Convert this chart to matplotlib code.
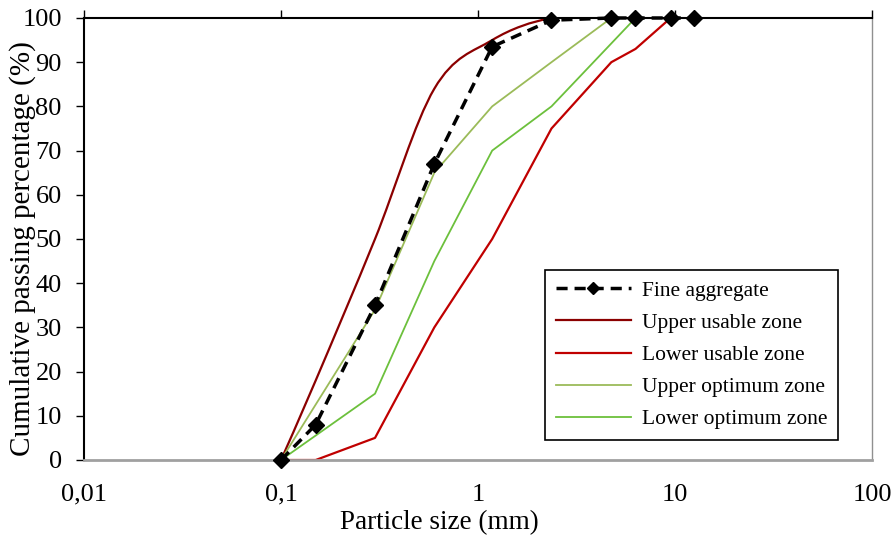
import numpy as np
import matplotlib
matplotlib.use("Agg")
import matplotlib.pyplot as plt
from matplotlib.path import Path
from matplotlib.patches import PathPatch
from matplotlib.lines import Line2D

plt.rcParams['font.family'] = ['Liberation Serif', 'DejaVu Serif']

# sieve size (mm) vs cumulative passing (%)
fine_size = [0.1, 0.15, 0.3, 0.6, 1.18, 2.36, 4.75, 6.3, 9.5, 12.5]
fine_pass = [0, 8, 35, 67, 93.5, 99.5, 100, 100, 100, 100]

upper_usable_size = [0.1, 0.15, 0.3, 0.6, 1.18, 2.36, 4.75]
upper_usable_pass = [0, 18, 50, 84, 95, 100, 100]

lower_usable_size = [0.1, 0.15, 0.3, 0.6, 1.18, 2.36, 4.75, 6.3, 9.5]
lower_usable_pass = [0, 0, 5, 30, 50, 75, 90, 93, 100]

upper_opt_size = [0.1, 0.3, 0.6, 1.18, 2.36, 4.75]
upper_opt_pass = [0, 34, 65, 80, 90, 100]

lower_opt_size = [0.1, 0.3, 0.6, 1.18, 2.36, 6.3]
lower_opt_pass = [0, 15, 45, 70, 80, 100]

x_ticks = [0.01, 0.1, 1, 10, 100]
x_tick_labels = ['0,01', '0,1', '1', '10', '100']
y_ticks = list(range(0, 101, 10))

DARK_RED = '#8b0000'
RED = '#c00000'
OLIVE_GREEN = '#9bbb59'
GREEN = '#6cc03c'


def smooth_path(xs, ys):
    # Bezier curve through the points (Catmull-Rom tangents), built in log-x space
    lx = np.log10(xs)
    y = np.asarray(ys, dtype=float)
    n = len(lx)
    verts = [(xs[0], y[0])]
    codes = [Path.MOVETO]
    for i in range(n - 1):
        i0 = max(i - 1, 0)
        i3 = min(i + 2, n - 1)
        c1x = lx[i] + (lx[i + 1] - lx[i0]) / 6
        c1y = y[i] + (y[i + 1] - y[i0]) / 6
        c2x = lx[i + 1] - (lx[i3] - lx[i]) / 6
        c2y = y[i + 1] - (y[i3] - y[i]) / 6
        verts += [(10 ** c1x, c1y), (10 ** c2x, c2y), (xs[i + 1], y[i + 1])]
        codes += [Path.CURVE4] * 3
    return Path(verts, codes)


fig = plt.figure(figsize=(8.92, 5.37), dpi=100)
ax = fig.add_axes([0.0942, 0.1434, 0.8834, 0.8231])

ax.set_xscale('log')
ax.set_xlim(0.01, 100)
ax.set_ylim(0, 100)

ax.add_patch(PathPatch(smooth_path(upper_usable_size, upper_usable_pass),
                       fill=False, edgecolor=DARK_RED, lw=1.6, zorder=2))
ax.plot(lower_usable_size, lower_usable_pass, color=RED, lw=1.6, zorder=2)
ax.plot(upper_opt_size, upper_opt_pass, color=OLIVE_GREEN, lw=1.3, zorder=2)
ax.plot(lower_opt_size, lower_opt_pass, color=GREEN, lw=1.3, zorder=2)
ax.plot(fine_size, fine_pass, color='black', lw=2.5, linestyle=(0, (3.2, 2)),
        marker='D', markersize=8.5, zorder=3, clip_on=False)

# ticks: x marks on the top edge, labels at the bottom
ax.set_xticks(x_ticks)
ax.set_xticklabels(x_tick_labels)
ax.xaxis.set_minor_locator(plt.NullLocator())
ax.tick_params(axis='x', bottom=False, top=True, labelbottom=True,
               direction='out', length=6, width=1, labelsize=19, pad=11)
ax.set_yticks(y_ticks)
ax.tick_params(axis='y', left=True, right=False, direction='out',
               length=6, width=1, labelsize=19, pad=10)

ax.spines['top'].set_linewidth(1.5)
ax.spines['left'].set_linewidth(1.5)
ax.spines['bottom'].set_color('#a0a0a0')
ax.spines['bottom'].set_linewidth(2)
ax.spines['right'].set_color('#909090')
ax.spines['right'].set_linewidth(1)

ax.set_xlabel('Particle size (mm)', fontsize=19.5)
ax.set_ylabel('Cumulative passing percentage (%)', fontsize=21)
ax.xaxis.set_label_coords(0.4505, -0.113)
ax.yaxis.set_label_coords(-0.061, 0.478)

handles = [
    Line2D([], [], color='black', lw=2.5, linestyle=(0, (3.2, 2)), marker='D', markersize=6),
    Line2D([], [], color=DARK_RED, lw=1.6),
    Line2D([], [], color=RED, lw=1.6),
    Line2D([], [], color=OLIVE_GREEN, lw=1.3),
    Line2D([], [], color=GREEN, lw=1.3),
]
labels = ['Fine aggregate', 'Upper usable zone', 'Lower usable zone',
          'Upper optimum zone', 'Lower optimum zone']
leg = ax.legend(handles, labels, loc='lower right', bbox_to_anchor=(0.957, 0.045),
                borderaxespad=0, fontsize=15.5, fancybox=False, framealpha=1,
                edgecolor='black', handlelength=3.5, handletextpad=0.5,
                labelspacing=0.56, borderpad=0.5)
leg.get_frame().set_linewidth(1.2)

fig.savefig('out.png', dpi=100)
plt.close(fig)
